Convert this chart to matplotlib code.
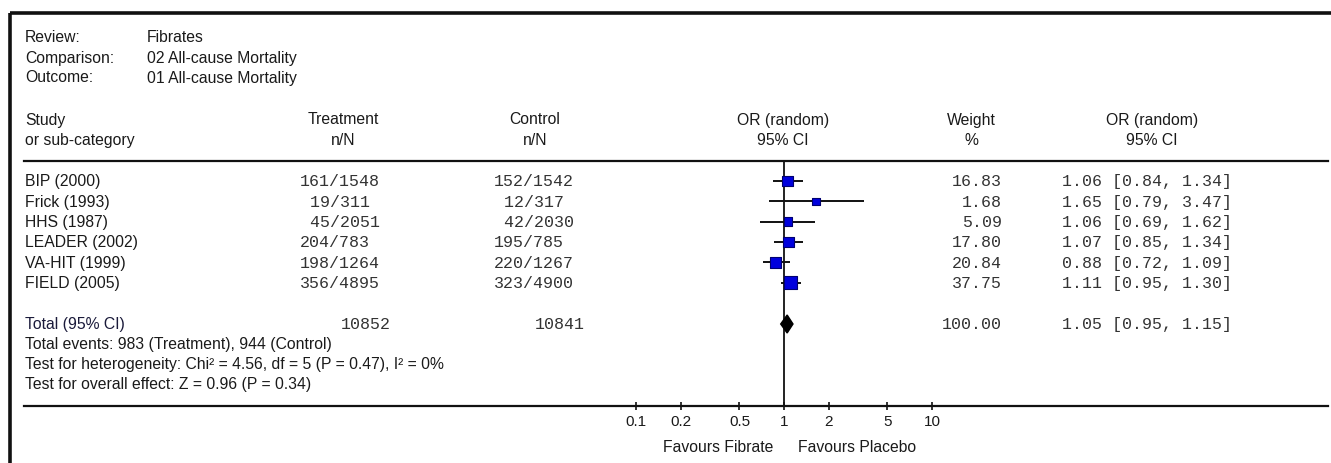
import numpy as np
import matplotlib
matplotlib.use("Agg")
import matplotlib.pyplot as plt

# Data
studies = ["BIP (2000)", "Frick (1993)", "HHS (1987)", "LEADER (2002)", "VA-HIT (1999)", "FIELD (2005)"]
treat_n = [161, 19, 45, 204, 198, 356]
treat_N = [1548, 311, 2051, 783, 1264, 4895]
ctrl_n = [152, 12, 42, 195, 220, 323]
ctrl_N = [1542, 317, 2030, 785, 1267, 4900]
weights = [16.83, 1.68, 5.09, 17.80, 20.84, 37.75]
or_est = [1.06, 1.65, 1.06, 1.07, 0.88, 1.11]
or_lo = [0.84, 0.79, 0.69, 0.85, 0.72, 0.95]
or_hi = [1.34, 3.47, 1.62, 1.34, 1.09, 1.30]

total_treat = 10852
total_ctrl = 10841
total_weight = 100.00
total_or = 1.05
total_lo = 0.95
total_hi = 1.15

axis_ticks = [0.1, 0.2, 0.5, 1, 2, 5, 10]

header_info = [("Review:", "Fibrates"),
               ("Comparison:", "02 All-cause Mortality"),
               ("Outcome:", "01 All-cause Mortality")]
footer_lines = ["Total events: 983 (Treatment), 944 (Control)",
                "Test for heterogeneity: Chi\u00b2 = 4.56, df = 5 (P = 0.47), I\u00b2 = 0%",
                "Test for overall effect: Z = 0.96 (P = 0.34)"]

W, H = 1331, 464
SANS = "Liberation Sans"
MONO = "Liberation Mono"
fs_sans = 11.3
fs_mono = 12
txt = "#1a1a1a"
num = "#333333"

fig = plt.figure(figsize=(W / 100, H / 100), dpi=100)
fig.patch.set_facecolor("white")

# overlay axes in pixel units for all table text and rules
ax = fig.add_axes([0, 0, 1, 1])
ax.set_xlim(0, W)
ax.set_ylim(H, 0)
ax.axis("off")

# outer frame (left + top only)
ax.plot([10, 10], [14, H], color="#111111", lw=2.6, solid_capstyle="butt")
ax.plot([10, W], [14, 14], color="#111111", lw=2.6, solid_capstyle="butt")

# review header
for i, (k, v) in enumerate(header_info):
    y = 38 + 20 * i
    ax.text(25, y, k, family=SANS, fontsize=fs_sans, color=txt, va="center")
    ax.text(147, y, v, family=SANS, fontsize=fs_sans, color=txt, va="center")

# column headers
ax.text(25, 120, "Study", family=SANS, fontsize=fs_sans, color=txt, va="center")
ax.text(25, 141, "or sub-category", family=SANS, fontsize=fs_sans, color=txt, va="center")
col_heads = [(343, "Treatment", "n/N"), (535, "Control", "n/N"),
             (783, "OR (random)", "95% CI"), (971, "Weight", "%"),
             (1152, "OR (random)", "95% CI")]
for x, l1, l2 in col_heads:
    ax.text(x, 120, l1, family=SANS, fontsize=fs_sans, color=txt, va="center", ha="center")
    ax.text(x, 141, l2, family=SANS, fontsize=fs_sans, color=txt, va="center", ha="center")

# rules
ax.plot([24, 1328], [162, 162], color="#111111", lw=1.6)
ax.plot([24, 1328], [407, 407], color="#111111", lw=1.6)

row_y = [182 + 20.3 * i for i in range(len(studies))]
total_y = 325

for i, y in enumerate(row_y):
    ax.text(25, y, studies[i], family=SANS, fontsize=fs_sans, color=txt, va="center")
    ax.text(300, y, f"{treat_n[i]:>3}/{treat_N[i]}", family=MONO, fontsize=fs_mono,
            color=num, va="center")
    ax.text(494, y, f"{ctrl_n[i]:>3}/{ctrl_N[i]}", family=MONO, fontsize=fs_mono,
            color=num, va="center")
    ax.text(1002, y, f"{weights[i]:.2f}", family=MONO, fontsize=fs_mono,
            color=num, va="center", ha="right")
    ax.text(1062, y, f"{or_est[i]:.2f} [{or_lo[i]:.2f}, {or_hi[i]:.2f}]", family=MONO,
            fontsize=fs_mono, color=num, va="center")

# total row
ax.text(25, total_y, "Total (95% CI)", family=SANS, fontsize=fs_sans, color="#1a1a3a", va="center")
ax.text(341, total_y, f"{total_treat}", family=MONO, fontsize=fs_mono, color=num, va="center")
ax.text(535, total_y, f"{total_ctrl}", family=MONO, fontsize=fs_mono, color=num, va="center")
ax.text(1002, total_y, f"{total_weight:.2f}", family=MONO, fontsize=fs_mono,
        color=num, va="center", ha="right")
ax.text(1062, total_y, f"{total_or:.2f} [{total_lo:.2f}, {total_hi:.2f}]", family=MONO,
        fontsize=fs_mono, color=num, va="center")
for j, line in enumerate(footer_lines):
    ax.text(25, total_y + 20 * (j + 1), line, family=SANS, fontsize=fs_sans,
            color=txt, va="center")

# forest panel on log scale
x0, x1 = 636, 932
y_top, y_bot = 162, 407
axf = fig.add_axes([x0 / W, (H - y_bot) / H, (x1 - x0) / W, (y_bot - y_top) / H])
axf.set_facecolor("none")
axf.set_xscale("log")
axf.set_xlim(0.1, 10)
axf.set_ylim(y_bot, y_top)
for s in axf.spines.values():
    s.set_visible(False)
axf.set_yticks([])
axf.set_xticks(axis_ticks)
axf.set_xticklabels([f"{t:g}" for t in axis_ticks], family=SANS, fontsize=11, color=txt)
axf.minorticks_off()
axf.tick_params(axis="x", direction="inout", length=6, width=1.2, pad=3, colors="#111111")
for lbl in axf.get_xticklabels():
    lbl.set_color(txt)

axf.axvline(1, color="#111111", lw=1.3)
axf.hlines(row_y, or_lo, or_hi, color="#111111", lw=1.4, clip_on=False)
sides = [(6 + 1.1 * np.sqrt(w)) * 0.72 for w in weights]
axf.scatter(or_est, row_y, marker="s", s=[sd ** 2 for sd in sides],
            facecolor="#0000dd", edgecolor="#000070", linewidth=0.8, zorder=3, clip_on=False)
axf.fill([total_lo, total_or, total_hi, total_or],
         [total_y, total_y - 9, total_y, total_y + 9], color="black", zorder=3)

axf.annotate("Favours Fibrate", xy=(1, 0), xycoords=("data", "axes fraction"),
             xytext=(-11, -41), textcoords="offset pixels", ha="right", va="center",
             family=SANS, fontsize=fs_sans, color=txt)
axf.annotate("Favours Placebo", xy=(1, 0), xycoords=("data", "axes fraction"),
             xytext=(14, -41), textcoords="offset pixels", ha="left", va="center",
             family=SANS, fontsize=fs_sans, color=txt)

fig.savefig("out.png", dpi=100)
